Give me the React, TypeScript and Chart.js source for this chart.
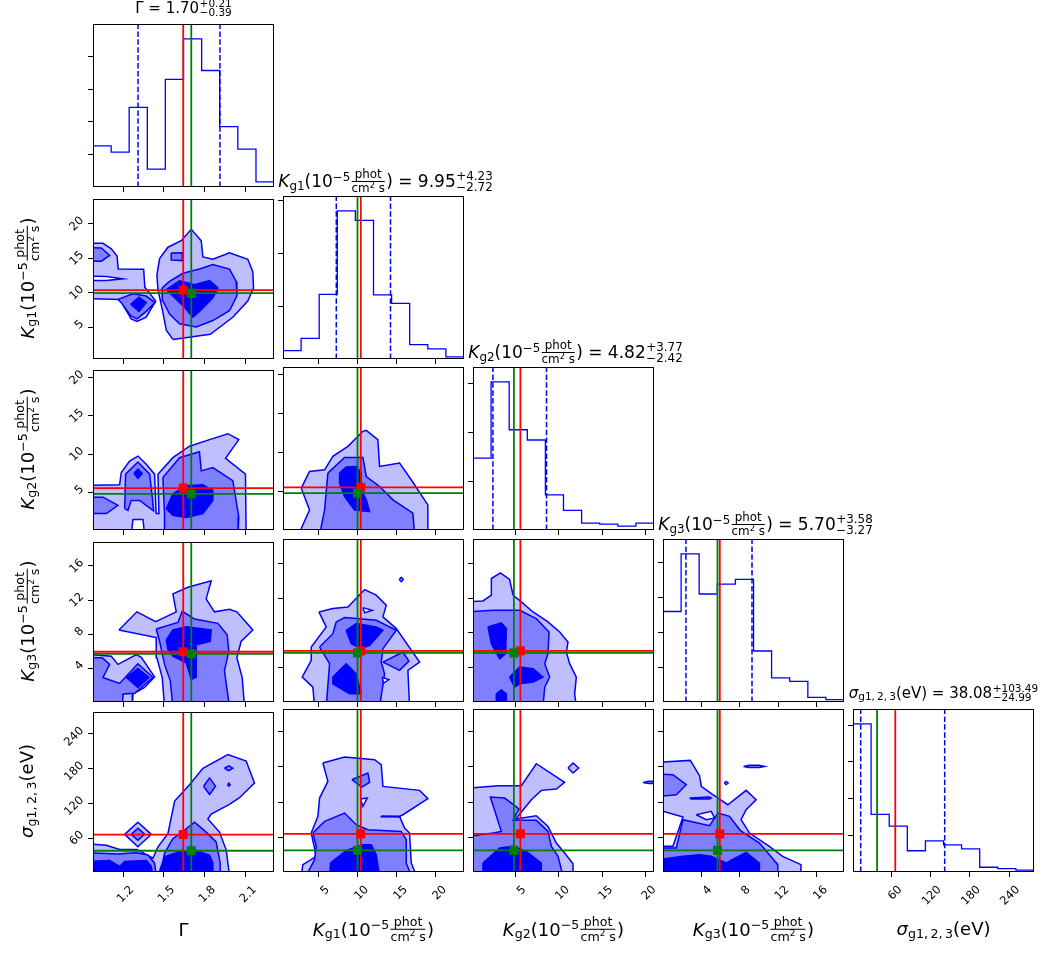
import React, { useEffect, useRef } from "react";
import { Chart, registerables } from "chart.js";
Chart.register(...registerables);

/* ================= DATA ================= */
// axis ranges (data units)
const GAMMA_RANGE = [0.98, 2.306];
const KG1_RANGE = [0.4, 23.6];
const KG2_RANGE = [0.1, 21.0];
const KG3_RANGE = [0.05, 18.82];
const SIGMA_RANGE = [1.3, 278.2];

// tick labels
const GAMMA_TICKS = [1.2, 1.5, 1.8, 2.1];
const KG1_TICKS = [5, 10, 15, 20];
const KG2_TICKS = [5, 10, 15, 20];
const KG3_TICKS = [4, 8, 12, 16];
const SIGMA_TICKS = [60, 120, 180, 240];
const HIST_TICKS = [100, 200, 300, 400];

// 1D histograms: bin edges and counts
const GAMMA_EDGES = [0.98, 1.113, 1.245, 1.378, 1.51, 1.643, 1.776, 1.908, 2.041, 2.174, 2.306];
const GAMMA_COUNTS = [126, 107, 244, 55, 330, 454, 357, 185, 116, 16];
const KG1_EDGES = [0.4, 2.72, 5.04, 7.36, 9.68, 12.0, 14.32, 16.64, 18.96, 21.28, 23.6];
const KG1_COUNTS = [16, 39, 122, 280, 262, 121, 105, 27, 19, 4];
const KG2_EDGES = [0.1, 2.19, 4.28, 6.37, 8.46, 10.55, 12.64, 14.73, 16.82, 18.91, 21.0];
const KG2_COUNTS = [147, 303, 205, 184, 72, 40, 14, 12, 8, 14];
const KG3_EDGES = [0.05, 1.93, 3.8, 5.68, 7.56, 9.44, 11.31, 13.19, 15.07, 16.94, 18.82];
const KG3_COUNTS = [259, 424, 309, 337, 351, 146, 69, 59, 13, 7];
const SIGMA_EDGES = [1.3, 29.0, 56.7, 84.4, 112.1, 139.8, 167.4, 195.1, 222.8, 250.5, 278.2];
const SIGMA_COUNTS = [404, 157, 125, 58, 85, 74, 63, 13, 9, 5];

// reference values: Gamma, Kg1, Kg2, Kg3, sigma
const RED_VALUES = [1.641, 10.37, 5.57, 5.94, 66.0];
const GREEN_VALUES = [1.70, 9.95, 4.82, 5.70, 38.08];
const Q_LOW = [1.31, 7.23, 2.40, 2.43, 13.09];
const Q_HIGH = [1.91, 14.18, 8.59, 9.28, 141.57];

// title texts
const TITLE_VALUE = ["1.70", "9.95", "4.82", "5.70", "38.08"];
const TITLE_PLUS = ["0.21", "4.23", "3.77", "3.58", "103.49"];
const TITLE_MINUS = ["0.39", "2.72", "2.42", "3.27", "24.99"];

// ---- contour polygons [x, y] in data units ----
// row1 col0 : Gamma vs Kg1
const R1C0_LIGHT = [
  [[0.9,17.16],[1.053,17.16],[1.114,16.36],[1.156,15.32],[1.165,13.43],[1.351,13.39],[1.36,10.79],[1.439,8.81],[1.37,6.45],[1.302,5.83],[1.26,6.21],[1.175,9.04],[0.9,9.18],[0.9,11.78],[1.078,11.78],[1.2,12.02],[1.078,12.35],[0.9,12.44]],
  [[1.565,3.24],[1.839,3.99],[2.004,6.45],[2.114,8.81],[2.156,10.7],[2.151,13.06],[2.114,14.85],[1.98,15.79],[1.858,14.85],[1.785,15.18],[1.773,17.54],[1.7,19.19],[1.626,17.54],[1.529,16.6],[1.468,14.94],[1.448,12.58],[1.456,10.46],[1.492,7.15],[1.517,4.56]],
];
const R1C0_MID = [
  [[0.9,16.55],[1.041,16.5],[1.102,15.42],[1.041,14.57],[0.9,14.57]],
  [[1.163,9.04],[1.273,9.85],[1.37,9.52],[1.434,8.57],[1.37,7.3],[1.302,6.21],[1.256,6.68],[1.187,8.57]],
  [[1.553,15.75],[1.634,15.79],[1.634,14.66],[1.558,14.75]],
  [[1.487,10.7],[1.541,11.64],[1.639,12.82],[1.76,13.43],[1.858,14.09],[1.98,13.43],[2.029,11.64],[2.034,9.52],[1.98,7.39],[1.858,5.97],[1.736,5.03],[1.614,5.5],[1.541,6.92],[1.492,8.81]],
];
const R1C0_DARK = [
  [[1.256,8.33],[1.317,9.37],[1.37,8.57],[1.317,7.3]],
  [[1.517,10.46],[1.614,11.73],[1.724,11.17],[1.834,11.78],[1.895,10.7],[1.858,9.28],[1.76,7.3],[1.712,6.45],[1.651,7.86],[1.565,9.52]],
];

// row2 col0 : Gamma vs Kg2
const R2C0_LIGHT = [
  [[0.9,-0.5],[0.9,5.89],[1.175,6.02],[1.187,7.61],[1.248,9.11],[1.309,9.75],[1.37,8.68],[1.431,7.39],[1.443,2.25],[1.463,2.25],[1.456,7.39],[1.565,9.54],[1.687,11.04],[1.834,11.9],[1.968,12.67],[2.048,11.9],[1.951,9.45],[2.097,7.39],[2.102,-0.5],[1.358,-0.5],[1.346,1.47],[1.273,1.47],[1.26,-0.5]],
];
const R2C0_MID = [
  [[1.212,2.89],[1.219,7.39],[1.309,8.98],[1.395,7.39],[1.414,4.39],[1.424,2.59],[1.321,3.96],[1.26,3.96],[1.236,2.67]],
  [[0.9,4.39],[1.053,4.39],[1.163,3.32],[1.078,2.25],[0.9,2.25]],
  [[1.492,6.96],[1.614,9.54],[1.76,10.31],[1.773,7.82],[1.858,8.25],[2.004,6.54],[2.048,1.82],[2.043,-0.5],[1.504,-0.5],[1.504,2.25]],
];
const R2C0_DARK = [
  [[1.28,7.48],[1.309,8.04],[1.341,7.48],[1.309,6.84]],
  [[1.517,2.89],[1.565,4.82],[1.663,5.89],[1.785,6.02],[1.858,5.25],[1.858,3.96],[1.785,2.25],[1.663,1.73],[1.565,2.03]],
];

// row2 col1 : Kg1 vs Kg2
const R2C1_LIGHT = [
  [[2.74,5.46],[3.8,7.61],[5.73,7.82],[6.79,9.54],[8.72,10.82],[10.64,12.75],[11.07,12.88],[12.56,11.68],[12.78,8.25],[15.34,8.68],[16.84,6.54],[18.97,3.32],[18.97,-0.5],[16.2,-0.5],[16.2,1.17],[15.34,1.17],[15.34,-0.5],[2.74,-0.5],[2.74,0.31],[3.8,2.67]],
];
const R2C1_MID = [
  [[6.15,7.39],[8.29,9.41],[10.64,9.41],[11.07,6.96],[12.78,5.68],[14.49,3.96],[17.05,2.25],[17.27,-0.5],[5.09,-0.5],[5.73,2.67]],
];
const R2C1_DARK = [
  [[7.65,7.39],[8.5,8.17],[9.79,8.25],[10.43,7.39],[10.43,5.25],[11.07,3.96],[11.5,2.46],[9.57,2.67],[8.29,4.39],[7.65,6.11]],
];

// row3 col0 : Gamma vs Kg3
const R3C0_LIGHT = [
  [[0.9,5.69],[1.114,5.42],[1.163,4.46],[1.297,5.61],[1.334,5.3],[1.431,2.99],[1.358,1.76],[1.273,0.99],[1.268,-0.5],[0.9,-0.5]],
  [[1.17,8.5],[1.302,10.62],[1.439,9.46],[1.59,10.62],[1.565,12.73],[1.675,13.5],[1.846,14.27],[1.809,12.15],[1.87,10.62],[1.98,10.92],[2.034,10.62],[2.151,8.5],[2.065,7.15],[2.034,5.23],[2.073,2.92],[2.09,-0.5],[1.504,-0.5],[1.487,2.92],[1.448,5.23],[1.443,7.61]],
];
const R3C0_MID = [
  [[0.9,5.23],[1.048,5.23],[1.102,4.46],[1.053,2.92],[1.175,2.22],[1.309,4.53],[1.419,2.92],[1.285,1.07],[1.2,0.99],[1.195,-0.5],[0.9,-0.5]],
  [[1.443,8.61],[1.602,9.38],[1.634,10.69],[1.724,9.77],[1.895,9.27],[1.963,7.92],[1.975,6.0],[1.943,3.69],[1.98,-0.5],[1.565,-0.5],[1.546,2.53],[1.504,4.46],[1.468,7.15]],
];
const R3C0_DARK = [
  [[1.224,2.92],[1.309,3.99],[1.39,2.92],[1.309,1.76]],
  [[1.517,7.34],[1.565,8.5],[1.663,8.88],[1.846,8.5],[1.839,7.15],[1.736,6.77],[1.736,2.92],[1.7,2.72],[1.663,4.65],[1.565,5.42],[1.529,6.19]],
];

// row3 col1 : Kg1 vs Kg3
const R3C1_LIGHT = [
  [[5.0,10.42],[6.79,10.81],[8.72,11.0],[10.86,13.0],[12.35,12.35],[13.63,11.19],[13.21,9.85],[14.92,8.5],[17.91,4.65],[16.41,3.69],[16.62,-0.5],[4.44,-0.5],[4.23,1.76],[2.86,2.92],[4.02,4.84],[4.02,6.38],[5.94,8.69]],
  [[15.3,14.15],[15.56,14.4],[15.82,14.15],[15.56,13.9]],
];
const R3C1_MID = [
  [[5.09,6.38],[6.79,7.92],[7.22,9.27],[8.29,9.77],[10.21,9.65],[12.35,9.46],[14.06,8.69],[14.92,8.31],[13.21,6.19],[12.99,4.65],[13.42,3.3],[12.78,-0.5],[5.94,-0.5],[6.37,4.46]],
  [[13.21,4.65],[15.77,5.8],[16.54,4.76],[15.34,3.69]],
];
const R3C1_DARK = [
  [[8.5,8.31],[9.79,9.08],[12.35,8.69],[13.21,8.31],[11.5,6.57],[10.43,6.19],[9.15,6.77]],
  [[6.79,2.92],[8.5,4.46],[9.79,3.3],[10.43,0.99],[8.93,0.99],[6.79,2.15]],
];
const R3C1_HOLES = [
  [[10.64,10.92],[11.84,10.62],[10.86,10.31]],
  [[13.12,2.92],[13.97,2.61],[13.29,2.22]],
];

// row3 col2 : Kg2 vs Kg3
const R3C2_LIGHT = [
  [[-0.5,11.58],[1.25,11.69],[2.22,12.35],[2.22,14.27],[3.26,14.93],[4.33,14.16],[4.72,12.35],[5.68,11.58],[7.03,10.42],[8.76,9.27],[10.11,8.11],[11.07,6.96],[10.88,5.8],[11.26,4.46],[12.03,2.92],[11.84,0.99],[12.03,-0.5],[-0.5,-0.5]],
];
const R3C2_MID = [
  [[-0.5,10.42],[2.41,10.61],[5.49,10.61],[7.41,9.65],[8.88,8.11],[8.76,5.61],[8.38,4.46],[8.95,2.92],[8.38,1.76],[8.18,-0.5],[-0.5,-0.5]],
];
const R3C2_DARK = [
  [[1.83,8.69],[3.37,9.15],[3.95,8.5],[3.87,5.61],[3.18,5.03],[2.22,6.77]],
  [[4.33,2.92],[5.49,4.07],[7.03,3.88],[8.18,2.92],[7.03,2.34],[5.49,2.15],[4.91,1.76]],
  [[2.79,0.99],[3.37,1.45],[3.95,0.99],[3.95,-0.5],[2.79,-0.5]],
];

// row4 col0 : Gamma vs sigma
const R4C0_LIGHT = [
  [[0.9,50.5],[1.078,47.7],[1.175,40.3],[1.302,40.3],[1.419,25.1],[1.456,44.9],[1.529,67.5],[1.578,124.1],[1.687,152.4],[1.785,180.7],[1.968,204.5],[2.102,193.2],[2.163,155.2],[2.053,129.8],[1.98,118.4],[1.846,101.5],[1.821,93.0],[1.907,70.3],[1.956,39.2],[1.98,-5],[0.9,-5]],
  [[1.212,66.4],[1.309,87.3],[1.407,66.4],[1.309,44.9]],
];
const R4C0_MID = [
  [[1.26,66.4],[1.309,77.1],[1.358,66.4],[1.309,56.2]],
  [[0.9,34.7],[1.163,32.4],[1.297,34.7],[1.382,30.7],[1.431,16.6],[1.443,-5],[0.9,-5]],
  [[1.473,-5],[1.504,33.6],[1.565,59.0],[1.663,76.0],[1.724,87.3],[1.809,70.3],[1.882,53.4],[1.912,16.6],[1.912,-5]],
  [[1.79,149.6],[1.834,164.0],[1.878,149.6],[1.834,135.4]],
  [[1.943,180.7],[1.975,184.7],[2.004,180.7],[1.975,176.7]],
  [[1.965,152.4],[1.975,155.0],[1.985,152.4],[1.975,149.8]],
];
const R4C0_DARK = [
  [[0.9,19.4],[1.102,21.1],[1.175,10.9],[1.212,19.4],[1.37,21.1],[1.407,10.9],[1.419,-5],[0.9,-5]],
  [[1.456,-5],[1.504,27.9],[1.614,36.4],[1.712,39.2],[1.834,30.7],[1.858,16.6],[1.858,-5]],
];

// row4 col1 : Kg1 vs sigma
const R4C1_LIGHT = [
  [[5.51,186.4],[8.29,196.5],[12.14,192.0],[12.99,183.5],[13.21,146.7],[17.91,140.0],[18.97,125.8],[15.77,98.6],[15.34,95.8],[15.98,76.0],[16.62,67.5],[16.84,16.6],[17.48,-5],[2.735,-5],[2.95,13.8],[4.66,27.9],[4.02,67.5],[4.87,95.8],[5.09,126.9],[6.15,155.2]],
];
const R4C1_MID = [
  [[9.23,158.1],[11.28,169.4],[11.5,153.5],[10.51,145.6]],
  [[4.23,67.5],[5.73,87.3],[8.29,101.5],[9.79,81.7],[11.28,73.2],[15.56,70.3],[16.2,56.2],[16.2,16.6],[16.84,-5],[3.38,-5],[4.44,22.2],[4.66,44.9]],
  [[12.99,96.6],[15.34,96.2],[15.34,94.6],[12.99,95.0]],
];
const R4C1_DARK = [
  [[6.37,-5],[6.5,16.6],[8.5,38.1],[10.64,47.7],[11.71,47.7],[12.35,30.7],[12.78,-5]],
];
const R4C1_HOLES = [
  [[10.34,125.2],[11.2,126.9],[10.64,112.8]],
];

// row4 col2 : Kg2 vs sigma
const R4C2_LIGHT = [
  [[-0.5,143.9],[2.99,147.9],[5.68,147.9],[7.41,185.2],[10.68,153.5],[9.72,142.2],[7.99,140.0],[6.84,124.1],[5.03,91.3],[7.41,96.9],[8.76,78.8],[9.72,50.5],[10.68,33.6],[11.65,15.4],[11.65,-5],[-0.5,-5]],
  [[11.07,177.9],[11.65,186.4],[12.3,177.9],[11.65,169.4]],
];
const R4C2_MID = [
  [[-0.5,61.9],[2.41,67.5],[3.37,70.3],[2.1,128.6],[3.76,126.9],[5.41,108.3],[4.72,89.0],[7.41,89.0],[8.76,70.3],[9.15,44.9],[9.92,27.9],[10.49,-5],[-0.5,-5]],
  [[19.73,153.5],[20.4,155.3],[22,155.3],[22,151.7],[20.4,151.7]],
];
const R4C2_DARK = [
  [[1.25,16.6],[3.18,42.0],[4.72,44.9],[6.26,36.4],[7.99,16.6],[7.99,-5],[1.25,-5]],
];

// row4 col3 : Kg3 vs sigma
const R4C3_LIGHT = [
  [[-0.5,187.5],[2.88,190.9],[3.84,164.9],[4.02,146.7],[5.22,132.6],[6.77,115.6],[8.67,140.0],[9.71,124.1],[8.67,107.1],[8.15,90.2],[9.02,67.5],[11.08,44.9],[12.46,27.9],[14.36,13.8],[14.36,-5],[-0.5,-5],[-0.5,44.9],[1.08,44.9],[2.12,94.7],[-0.5,107.1]],
];
const R4C3_MID = [
  [[-0.5,168],[1.08,166.6],[2.46,149.6],[1.43,132.6],[-0.5,129.8]],
  [[-0.5,42.0],[1.43,42.0],[2.12,90.2],[4.88,80.0],[5.74,101.5],[6.95,95.8],[8.05,72.1],[10.05,50.5],[11.95,13.8],[11.95,-5],[-0.5,-5]],
  [[2.81,126.9],[4.88,128.5],[5.05,126.9],[4.88,125.2],[2.98,125.2]],
  [[8.4,180.7],[9.0,182.5],[10.0,182.5],[10.57,180.7],[10.0,178.9],[9.0,178.9]],
];
const R4C3_DARK = [
  [[-0.5,22.2],[2.12,27.9],[3.84,30.7],[5.05,27.9],[6.6,16.6],[8.67,34.7],[10.05,16.6],[10.05,-5],[-0.5,-5]],
];
const R4C3_HOLES = [
  [[3.5,98.6],[5.05,104.3],[5.4,93.0],[4.53,90.2]],
  [[6.4,152.4],[6.6,155.0],[6.8,152.4],[6.6,149.8]],
];

/* ================= tables built from data ================= */
const RANGES = [GAMMA_RANGE, KG1_RANGE, KG2_RANGE, KG3_RANGE, SIGMA_RANGE];
const TICKS = [GAMMA_TICKS, KG1_TICKS, KG2_TICKS, KG3_TICKS, SIGMA_TICKS];
const HIST_EDGES = [GAMMA_EDGES, KG1_EDGES, KG2_EDGES, KG3_EDGES, SIGMA_EDGES];
const HIST_COUNTS = [GAMMA_COUNTS, KG1_COUNTS, KG2_COUNTS, KG3_COUNTS, SIGMA_COUNTS];
const CONTOURS: Record<string, any> = {
  "10": { light: R1C0_LIGHT, mid: R1C0_MID, dark: R1C0_DARK, holes: [] },
  "20": { light: R2C0_LIGHT, mid: R2C0_MID, dark: R2C0_DARK, holes: [] },
  "21": { light: R2C1_LIGHT, mid: R2C1_MID, dark: R2C1_DARK, holes: [] },
  "30": { light: R3C0_LIGHT, mid: R3C0_MID, dark: R3C0_DARK, holes: [] },
  "31": { light: R3C1_LIGHT, mid: R3C1_MID, dark: R3C1_DARK, holes: R3C1_HOLES },
  "32": { light: R3C2_LIGHT, mid: R3C2_MID, dark: R3C2_DARK, holes: [] },
  "40": { light: R4C0_LIGHT, mid: R4C0_MID, dark: R4C0_DARK, holes: [] },
  "41": { light: R4C1_LIGHT, mid: R4C1_MID, dark: R4C1_DARK, holes: R4C1_HOLES },
  "42": { light: R4C2_LIGHT, mid: R4C2_MID, dark: R4C2_DARK, holes: [] },
  "43": { light: R4C3_LIGHT, mid: R4C3_MID, dark: R4C3_DARK, holes: R4C3_HOLES },
};

/* ================= layout / style ================= */
const COL_LEFT = [93, 283, 473, 663, 853];
const ROW_TOP = [24, 196, 367, 539, 709];
const PW = 181;
const PH = 163;
const PL = 60, PT = 10, PR = 20, PB = 60;
const CW = PL + PW + PR;
const CH = PT + PH + PB;
const FONT = "'DejaVu Sans', sans-serif";
const BLUE = "#0000ff";
const LIGHT_C = "#bfbfff";
const MID_C = "#8080ff";
const RED_C = "#ff0000";
const GREEN_C = "#008000";
const TICK_FONT = 11.5;
// title styling per column: font size, horizontal shift, top offset
const TITLE_FS = [15, 17, 17, 17, 15];
const TITLE_DX = [0, 12, 12, 12, 0];
const TITLE_DY = [25, 28, 28, 28, 25];
const LABEL_FS = 18;

const framePlugin = {
  id: "frame",
  afterDraw(chart: any) {
    const { ctx, chartArea: a } = chart;
    ctx.save();
    ctx.strokeStyle = "#000";
    ctx.lineWidth = 1;
    ctx.strokeRect(Math.round(a.left) + 0.5, Math.round(a.top) + 0.5, Math.round(a.right - a.left) - 1, Math.round(a.bottom - a.top) - 1);
    ctx.restore();
  },
};

function closed(poly: number[][]) {
  const pts = poly.map(([x, y]) => ({ x, y }));
  pts.push({ x: poly[0][0], y: poly[0][1] });
  return pts;
}

function histPoints(edges: number[], counts: number[]) {
  const pts = [{ x: edges[0], y: 0 }];
  counts.forEach((c, i) => pts.push({ x: edges[i], y: c }));
  pts.push({ x: edges[edges.length - 1], y: counts[counts.length - 1] });
  pts.push({ x: edges[edges.length - 1], y: 0 });
  return pts;
}

function lineDs(pts: any[], color: string, width: number, dash: number[] = []) {
  return { data: pts, showLine: true, borderColor: color, backgroundColor: color, borderWidth: width, borderDash: dash, pointRadius: 0, pointHoverRadius: 0, fill: false, clip: 0 };
}
function polyDs(poly: number[][], fillColor: string) {
  return { data: closed(poly), showLine: true, fill: "shape", backgroundColor: fillColor, borderColor: BLUE, borderWidth: 1.5, pointRadius: 0, pointHoverRadius: 0, clip: 0 };
}
function markerDs(x: number, y: number, color: string) {
  return { data: [{ x, y }], showLine: false, pointStyle: "rect", pointRadius: 6.4, pointHoverRadius: 6.4, backgroundColor: color, borderColor: color, borderWidth: 0 };
}

function buildConfig(r: number, c: number) {
  const xr = RANGES[c];
  const isHist = r === c;
  const ds: any[] = [];
  let yr: number[];
  let yTicks: number[];
  if (isHist) {
    const counts = HIST_COUNTS[c];
    yr = [0, Math.max(...counts) * 1.1];
    yTicks = HIST_TICKS.filter((v) => v < yr[1]);
    ds.push({ ...lineDs(histPoints(HIST_EDGES[c], counts), BLUE, 1.3), stepped: "before" });
    ds.push(lineDs([{ x: Q_LOW[c], y: yr[0] }, { x: Q_LOW[c], y: yr[1] }], BLUE, 1.5, [5.5, 2.4]));
    ds.push(lineDs([{ x: Q_HIGH[c], y: yr[0] }, { x: Q_HIGH[c], y: yr[1] }], BLUE, 1.5, [5.5, 2.4]));
    ds.push(lineDs([{ x: RED_VALUES[c], y: yr[0] }, { x: RED_VALUES[c], y: yr[1] }], RED_C, 1.8));
    ds.push(lineDs([{ x: GREEN_VALUES[c], y: yr[0] }, { x: GREEN_VALUES[c], y: yr[1] }], GREEN_C, 1.8));
  } else {
    yr = RANGES[r];
    yTicks = TICKS[r];
    const p = CONTOURS[`${r}${c}`];
    p.light.forEach((pg: number[][]) => ds.push(polyDs(pg, LIGHT_C)));
    p.mid.forEach((pg: number[][]) => ds.push(polyDs(pg, MID_C)));
    p.dark.forEach((pg: number[][]) => ds.push(polyDs(pg, BLUE)));
    p.holes.forEach((pg: number[][]) => ds.push(polyDs(pg, "#ffffff")));
    ds.push(lineDs([{ x: RED_VALUES[c], y: yr[0] }, { x: RED_VALUES[c], y: yr[1] }], RED_C, 1.8));
    ds.push(lineDs([{ x: xr[0], y: RED_VALUES[r] }, { x: xr[1], y: RED_VALUES[r] }], RED_C, 1.8));
    ds.push(lineDs([{ x: GREEN_VALUES[c], y: yr[0] }, { x: GREEN_VALUES[c], y: yr[1] }], GREEN_C, 1.8));
    ds.push(lineDs([{ x: xr[0], y: GREEN_VALUES[r] }, { x: xr[1], y: GREEN_VALUES[r] }], GREEN_C, 1.8));
    ds.push(markerDs(RED_VALUES[c], RED_VALUES[r], RED_C));
    ds.push(markerDs(GREEN_VALUES[c], GREEN_VALUES[r], GREEN_C));
  }
  ds.forEach((d, i) => (d.order = -i));
  const grid = { display: true, drawOnChartArea: false, drawTicks: true, tickLength: 5, color: "#000", lineWidth: 1 };
  const xTickVals = TICKS[c];
  return {
    type: "scatter",
    data: { datasets: ds },
    options: {
      animation: false,
      responsive: false,
      maintainAspectRatio: false,
      devicePixelRatio: 1,
      events: [],
      layout: { padding: { left: 0, top: PT, right: PR, bottom: 0 } },
      plugins: { legend: { display: false }, tooltip: { enabled: false }, title: { display: false } },
      scales: {
        x: {
          type: "linear",
          position: "bottom",
          min: xr[0],
          max: xr[1],
          afterFit: (s: any) => { s.height = PB; },
          afterBuildTicks: (s: any) => { s.ticks = xTickVals.map((v) => ({ value: v })); },
          ticks: { display: r === 4, minRotation: 45, maxRotation: 45, padding: 6, labelOffset: 9, color: "#000", font: { family: FONT, size: TICK_FONT }, callback: (v: any) => String(v) },
          grid,
          border: { display: false },
        },
        y: {
          type: "linear",
          position: "left",
          min: yr[0],
          max: yr[1],
          afterFit: (s: any) => { s.width = PL; },
          afterBuildTicks: (s: any) => { s.ticks = yTicks.map((v) => ({ value: v })); },
          ticks: { display: c === 0 && r > 0, minRotation: 45, maxRotation: 45, padding: 6, labelOffset: -5, color: "#000", font: { family: FONT, size: TICK_FONT }, callback: (v: any) => String(v) },
          grid,
          border: { display: false },
        },
      },
    },
    plugins: [framePlugin],
  } as any;
}

function Panel({ r, c }: { r: number; c: number }) {
  const ref = useRef<HTMLCanvasElement>(null);
  useEffect(() => {
    const chart = new Chart(ref.current as HTMLCanvasElement, buildConfig(r, c));
    return () => chart.destroy();
  }, [r, c]);
  return (
    <canvas
      ref={ref}
      width={CW}
      height={CH}
      style={{ position: "absolute", left: COL_LEFT[c] - PL, top: ROW_TOP[r] - PT, width: CW, height: CH }}
    />
  );
}

/* ================= math-like text ================= */
const Sb = ({ children }: any) => <span style={{ fontSize: "0.7em", position: "relative", top: "0.22em" }}>{children}</span>;
const Sp = ({ children }: any) => <span style={{ fontSize: "0.7em", position: "relative", top: "-0.5em" }}>{children}</span>;

function Frac() {
  return (
    <span style={{ display: "inline-block", verticalAlign: "-0.4em", fontSize: "0.7em", lineHeight: "1.02em", textAlign: "center", margin: "0 0.1em" }}>
      <span style={{ display: "block", borderBottom: "1px solid #000", padding: "0 0.1em 0.04em" }}>phot</span>
      <span style={{ display: "block", paddingTop: "0.02em" }}>
        cm<span style={{ fontSize: "0.7em", position: "relative", top: "-0.5em" }}>2</span> s
      </span>
    </span>
  );
}

function PM({ p, m }: { p: string; m: string }) {
  return (
    <span style={{ display: "inline-block", verticalAlign: "-0.32em", fontSize: "0.7em", lineHeight: "0.88em", textAlign: "left", marginLeft: "0.05em" }}>
      <span style={{ display: "block" }}>+{p}</span>
      <span style={{ display: "block" }}>{"\u2212"}{m}</span>
    </span>
  );
}

function VarLabel({ i }: { i: number }) {
  if (i === 0) return <span>Γ</span>;
  if (i === 4)
    return (
      <span>
        <i>σ</i>
        <Sb>g1,{"\u2009"}2,{"\u2009"}3</Sb>(eV)
      </span>
    );
  return (
    <span>
      <i>K</i>
      <Sb>g{i}</Sb>(10<Sp>{"\u2212"}5</Sp>
      <Frac />)
    </span>
  );
}

export default function App() {
  const panels: any[] = [];
  for (let r = 0; r < 5; r++) for (let c = 0; c <= r; c++) panels.push(<Panel key={`${r}-${c}`} r={r} c={c} />);
  return (
    <div style={{ position: "absolute", left: 0, top: 0, width: 1043, height: 959, background: "#fff", fontFamily: FONT, color: "#000", overflow: "hidden" }}>
      {panels}
      {[0, 1, 2, 3, 4].map((i) => (
        <div
          key={`t${i}`}
          style={{ position: "absolute", left: COL_LEFT[i] + PW / 2 + TITLE_DX[i], top: ROW_TOP[i] - TITLE_DY[i], transform: "translateX(-50%)", whiteSpace: "nowrap", fontSize: TITLE_FS[i], lineHeight: `${TITLE_FS[i] + 2}px` }}
        >
          <VarLabel i={i} /> = {TITLE_VALUE[i]}
          <PM p={TITLE_PLUS[i]} m={TITLE_MINUS[i]} />
        </div>
      ))}
      {[0, 1, 2, 3, 4].map((i) => (
        <div
          key={`x${i}`}
          style={{ position: "absolute", left: COL_LEFT[i] + PW / 2, top: 930, transform: "translate(-50%, -50%)", whiteSpace: "nowrap", fontSize: LABEL_FS, lineHeight: "20px" }}
        >
          <VarLabel i={i} />
        </div>
      ))}
      {[1, 2, 3, 4].map((i) => (
        <div
          key={`y${i}`}
          style={{ position: "absolute", left: 28, top: ROW_TOP[i] + PH / 2, transform: "translate(-50%, -50%) rotate(-90deg)", whiteSpace: "nowrap", fontSize: LABEL_FS, lineHeight: "20px" }}
        >
          <VarLabel i={i} />
        </div>
      ))}
    </div>
  );
}
